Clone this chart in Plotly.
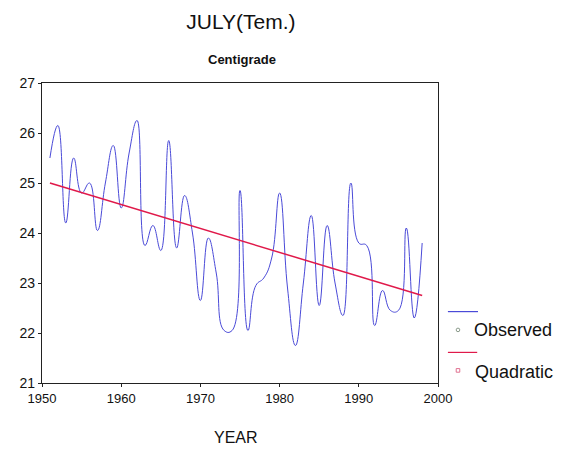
import plotly.graph_objects as go

# Observed July mean temperature (°C), 1951-1998
years = list(range(1951, 1999))
observed = [
    25.5, 26.15, 24.2, 25.5, 24.8, 25.0, 24.05, 25.0, 25.75, 24.5,
    25.6, 26.25, 23.75, 24.15, 23.65, 25.85, 23.7, 24.75, 24.0, 22.65,
    23.9, 23.2, 22.05, 22.05, 24.85, 22.05, 22.95, 23.1, 23.5, 24.8,
    22.9, 21.75, 23.0, 24.35, 22.55, 24.15, 23.0, 22.35, 25.0, 23.8,
    23.75, 22.15, 22.85, 22.45, 22.45, 24.1, 22.3, 23.8,
]

# Quadratic trend fitted to the series
trend_years = [1951, 1975, 1998]
trend_vals = [25.0, 23.85, 22.75]

x_ticks = [1950, 1960, 1970, 1980, 1990, 2000]
y_ticks = [21, 22, 23, 24, 25, 26, 27]

FONT = "Arial, Liberation Sans, sans-serif"
BLUE = "#4a4ad8"
RED = "#e0194a"

fig = go.Figure()
fig.add_trace(go.Scatter(
    x=years, y=observed, mode="lines", name="Observed",
    line=dict(color=BLUE, width=1, shape="spline", smoothing=1.3),
))
fig.add_trace(go.Scatter(
    x=trend_years, y=trend_vals, mode="lines", name="Quadratic",
    line=dict(color=RED, width=1.5),
))

axis_common = dict(
    showgrid=False, zeroline=False, showline=True, linecolor="#222",
    linewidth=1.2, mirror=True, ticks="outside", ticklen=3,
    tickcolor="#222", tickfont=dict(family=FONT, size=13, color="#111"),
)
fig.update_xaxes(range=[1950, 2000], tickvals=x_ticks, **axis_common)
fig.update_yaxes(range=[21, 27], tickvals=y_ticks, **axis_common)
fig.update_yaxes(tickfont=dict(family=FONT, size=14, color="#111"))

annotations = [
    dict(text="Centigrade", x=0.505, y=1.077, xref="paper", yref="paper",
         showarrow=False, font=dict(family=FONT, size=13, color="#111", weight=600),
         xanchor="center", yanchor="middle"),
    dict(text="YEAR", x=0.49, y=-0.183, xref="paper", yref="paper",
         showarrow=False, font=dict(family=FONT, size=16, color="#111"),
         xanchor="center", yanchor="middle"),
    dict(text="Observed", x=1.086, y=0.177, xref="paper", yref="paper",
         showarrow=False, font=dict(family=FONT, size=18, color="#111"),
         xanchor="left", yanchor="middle"),
    dict(text="Quadratic", x=1.088, y=0.038, xref="paper", yref="paper",
         showarrow=False, font=dict(family=FONT, size=18, color="#111"),
         xanchor="left", yanchor="middle"),
]

shapes = [
    # legend line samples
    dict(type="line", xref="paper", yref="paper", x0=1.025, x1=1.101,
         y0=0.238, y1=0.238, line=dict(color=BLUE, width=1.2)),
    dict(type="line", xref="paper", yref="paper", x0=1.025, x1=1.099,
         y0=0.102, y1=0.102, line=dict(color=RED, width=1.2)),
    # legend point symbols
    dict(type="circle", xref="paper", yref="paper", x0=1.046, x1=1.055,
         y0=0.171, y1=0.183, line=dict(color="#8a9a8a", width=1)),
    dict(type="rect", xref="paper", yref="paper", x0=1.046, x1=1.055,
         y0=0.036, y1=0.048, line=dict(color="#e07090", width=1)),
]

fig.update_layout(
    width=565, height=450,
    margin=dict(l=42, r=127, t=83, b=67),
    paper_bgcolor="white", plot_bgcolor="white",
    showlegend=False,
    title=dict(text="JULY(Tem.)", x=0.4265, xref="container",
               y=0.951, yref="container", xanchor="center", yanchor="middle",
               font=dict(family=FONT, size=21, color="#111")),
    annotations=annotations, shapes=shapes,
)

fig.write_html("out.html")
